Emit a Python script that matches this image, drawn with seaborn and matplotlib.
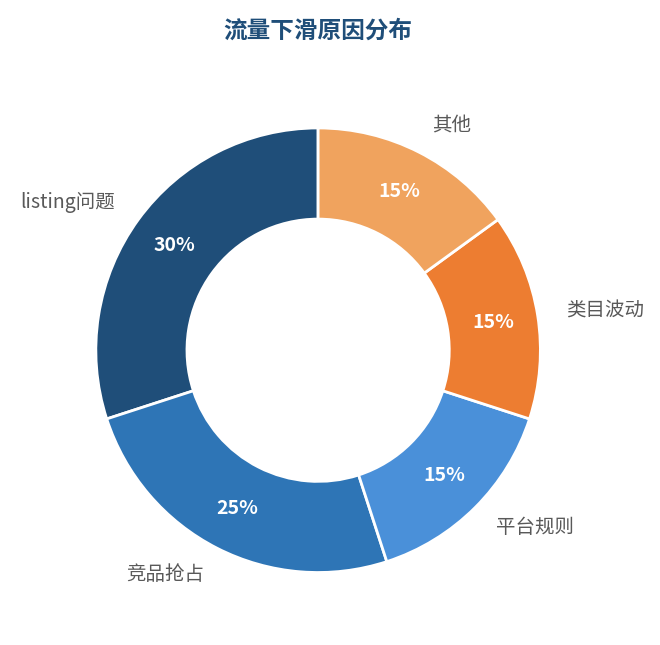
import matplotlib
matplotlib.use('Agg')
import matplotlib.pyplot as plt
import seaborn as sns

sns.set_theme(style="white")
plt.rcParams['font.family'] = ['Noto Sans CJK SC', 'DejaVu Sans']

# 数据
categories = ['listing问题', '竞品抢占', '平台规则', '类目波动', '其他']
values = [30, 25, 15, 15, 15]
colors = ['#1f4e79', '#2e75b6', '#4a90d9', '#ed7d31', '#f0a35e']

fig = plt.figure(figsize=(6.6, 6.45), dpi=100)
ax = fig.add_axes([0.044, 0.009, 0.876, 0.896])

wedges, texts, autotexts = ax.pie(
    values, labels=categories, colors=colors, startangle=90,
    autopct='%d%%', pctdistance=0.8, labeldistance=1.13,
    wedgeprops=dict(width=0.41, edgecolor='white', linewidth=2),
    textprops=dict(fontsize=14, color='#595959'),
)
for t in autotexts:
    t.set_color('white')
    t.set_fontsize(14)
    t.set_fontweight('bold')

ax.set_xlim(-1.3, 1.3)
ax.set_ylim(-1.3, 1.3)
ax.set_aspect('equal')
fig.text(0.482, 0.953, '流量下滑原因分布', fontsize=17, fontweight='bold',
         color='#1f4e79', ha='center', va='center')
plt.savefig('out.png', dpi=100)
